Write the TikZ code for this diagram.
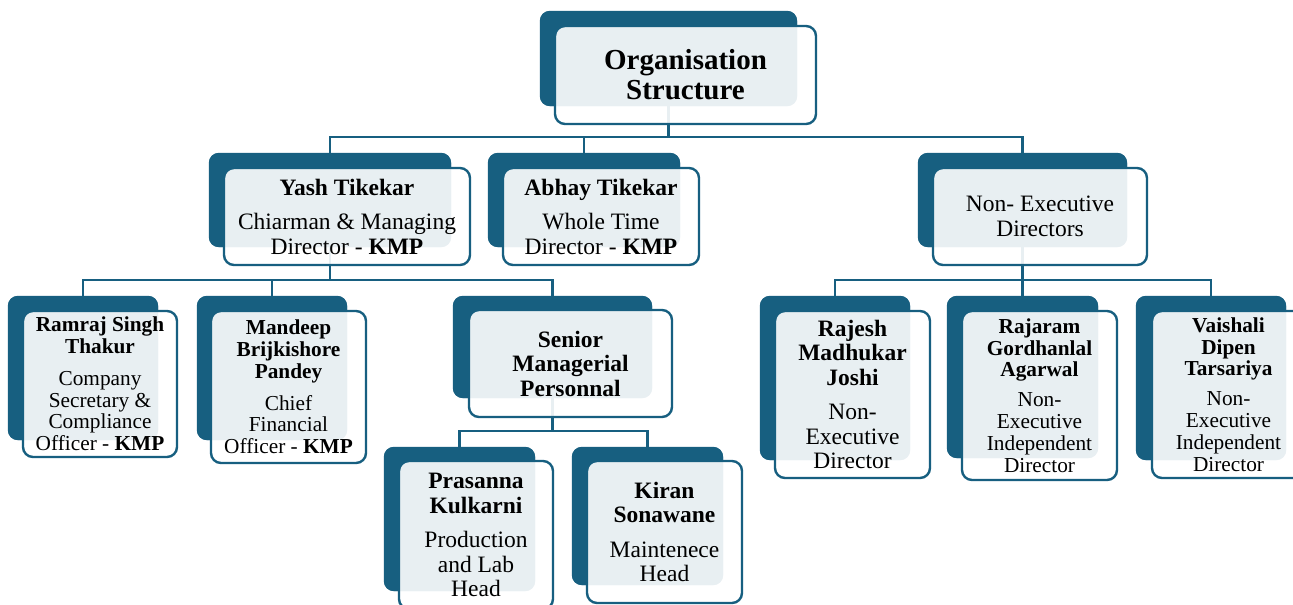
\documentclass[tikz,border=0pt]{standalone}
\usepackage{fontspec}
\setmainfont{Liberation Serif}
\definecolor{dk}{HTML}{175F80}
\tikzset{
  backbox/.style={fill=dk, draw=none, rounded corners=10pt, inner sep=0pt},
  frontbox/.style={fill=white, fill opacity=0.9, text opacity=1, draw=dk, line width=2.4pt,
     rounded corners=10pt, inner sep=0pt, align=center, text=black},
  conn/.style={draw=dk, line width=2.4pt},
  big/.style={font=\fontsize{23.5}{24.5}\selectfont},
  small/.style={font=\fontsize{21.3}{21.8}\selectfont},
}
\begin{document}
\begin{tikzpicture}[x=1pt,y=-1pt]
\useasboundingbox (0,0) rectangle (1293,605);
\clip (0,0) rectangle (1293,605);
\fill[white] (0,0) rectangle (1293,605);
% bus levels
\coordinate (bus1) at (0,137);
\coordinate (bus2) at (0,280);
\coordinate (bus3) at (0,431);
% back boxes (positions)
\path
 (668.5,58.5) node[backbox, minimum width=257pt, minimum height=95pt] (title-b) {}
 (330,200)    node[backbox, minimum width=242pt, minimum height=94pt] (yash-b) {}
 (584,200)    node[backbox, minimum width=192pt, minimum height=94pt] (abhay-b) {}
 (1022.5,200) node[backbox, minimum width=209pt, minimum height=94pt] (nonexec-b) {}
 (83,368)     node[backbox, minimum width=150pt, minimum height=144pt] (ramraj-b) {}
 (272,368)    node[backbox, minimum width=150pt, minimum height=144pt] (mandeep-b) {}
 (552.5,347)  node[backbox, minimum width=199pt, minimum height=102pt] (senior-b) {}
 (459.5,519)  node[backbox, minimum width=151pt, minimum height=144pt] (prasanna-b) {}
 (647.5,516)  node[backbox, minimum width=151pt, minimum height=138pt] (kiran-b) {}
 (835,378)    node[backbox, minimum width=150pt, minimum height=164pt] (rajesh-b) {}
 (1022.5,377) node[backbox, minimum width=151pt, minimum height=162pt] (rajaram-b) {}
 (1211,378)   node[backbox, minimum width=150pt, minimum height=164pt] (vaishali-b) {};
% connectors (drawn beneath the boxes)
\draw[conn] (title-b.center) |- (yash-b.north |- bus1) -- (yash-b.north);
\draw[conn] (title-b.center) |- (abhay-b.north |- bus1) -- (abhay-b.north);
\draw[conn] (title-b.center) |- (nonexec-b.north |- bus1) -- (nonexec-b.north);
\draw[conn] (yash-b.center) |- (ramraj-b.north |- bus2) -- (ramraj-b.north);
\draw[conn] (yash-b.center) |- (mandeep-b.north |- bus2) -- (mandeep-b.north);
\draw[conn] (yash-b.center) |- (senior-b.north |- bus2) -- (senior-b.north);
\draw[conn] (nonexec-b.center) |- (rajesh-b.north |- bus2) -- (rajesh-b.north);
\draw[conn] (nonexec-b.center) |- (rajaram-b.north |- bus2) -- (rajaram-b.north);
\draw[conn] (nonexec-b.center) |- (vaishali-b.north |- bus2) -- (vaishali-b.north);
\draw[conn] (senior-b.center) |- (prasanna-b.north |- bus3) -- (prasanna-b.north);
\draw[conn] (senior-b.center) |- (kiran-b.north |- bus3) -- (kiran-b.north);
% redraw back boxes over connectors
\foreach \n in {title,yash,abhay,nonexec,ramraj,mandeep,senior,prasanna,kiran,rajesh,rajaram,vaishali}{
  \fill[dk, rounded corners=10pt] (\n-b.north west) rectangle (\n-b.south east);
}
% front boxes with text
\node[frontbox, minimum width=261pt, minimum height=98pt, font=\fontsize{29}{30}\selectfont\bfseries] (title) at (685.5,75)
  {Organisation\\Structure};
\node[frontbox, big, minimum width=246pt, minimum height=97pt] (yash) at (347,216.5)
  {\textbf{Yash Tikekar}\\[10pt]Chiarman \& Managing\\Director - \textbf{KMP}};
\node[frontbox, big, minimum width=196pt, minimum height=97pt] (abhay) at (601,216.5)
  {\textbf{Abhay Tikekar}\\[10pt]Whole Time\\Director - \textbf{KMP}};
\node[frontbox, big, minimum width=214pt, minimum height=97pt] (nonexec) at (1040,216.5)
  {Non- Executive\\Directors};
\node[frontbox, small, minimum width=154pt, minimum height=146pt] (ramraj) at (100,384)
  {\textbf{Ramraj Singh}\\\textbf{Thakur}\\[10pt]Company\\Secretary \&\\Compliance\\Officer - \textbf{KMP}};
\node[frontbox, small, minimum width=155pt, minimum height=152pt] (mandeep) at (288.5,387)
  {\textbf{Mandeep}\\\textbf{Brijkishore}\\\textbf{Pandey}\\[10pt]Chief\\Financial\\Officer - \textbf{KMP}};
\node[frontbox, big, minimum width=203pt, minimum height=107pt] (senior) at (570.5,363.5)
  {\textbf{Senior}\\\textbf{Managerial}\\\textbf{Personnal}};
\node[frontbox, big, minimum width=154pt, minimum height=148pt] (prasanna) at (476,535)
  {\textbf{Prasanna}\\\textbf{Kulkarni}\\[10pt]Production\\and Lab\\Head};
\node[frontbox, big, minimum width=155pt, minimum height=142pt] (kiran) at (664.5,532)
  {\textbf{Kiran}\\\textbf{Sonawane}\\[10pt]Maintenece\\Head};
\node[frontbox, big, minimum width=155pt, minimum height=167pt] (rajesh) at (852.5,394.5)
  {\textbf{Rajesh}\\\textbf{Madhukar}\\\textbf{Joshi}\\[10pt]Non-\\Executive\\Director};
\node[frontbox, small, minimum width=155pt, minimum height=169pt] (rajaram) at (1039.5,395.5)
  {\textbf{Rajaram}\\\textbf{Gordhanlal}\\\textbf{Agarwal}\\[8pt]Non-\\Executive\\Independent\\Director};
\node[frontbox, small, minimum width=153pt, minimum height=167pt] (vaishali) at (1228.5,394.5)
  {\textbf{Vaishali}\\\textbf{Dipen}\\\textbf{Tarsariya}\\[8pt]Non-\\Executive\\Independent\\Director};
\end{tikzpicture}
\end{document}
